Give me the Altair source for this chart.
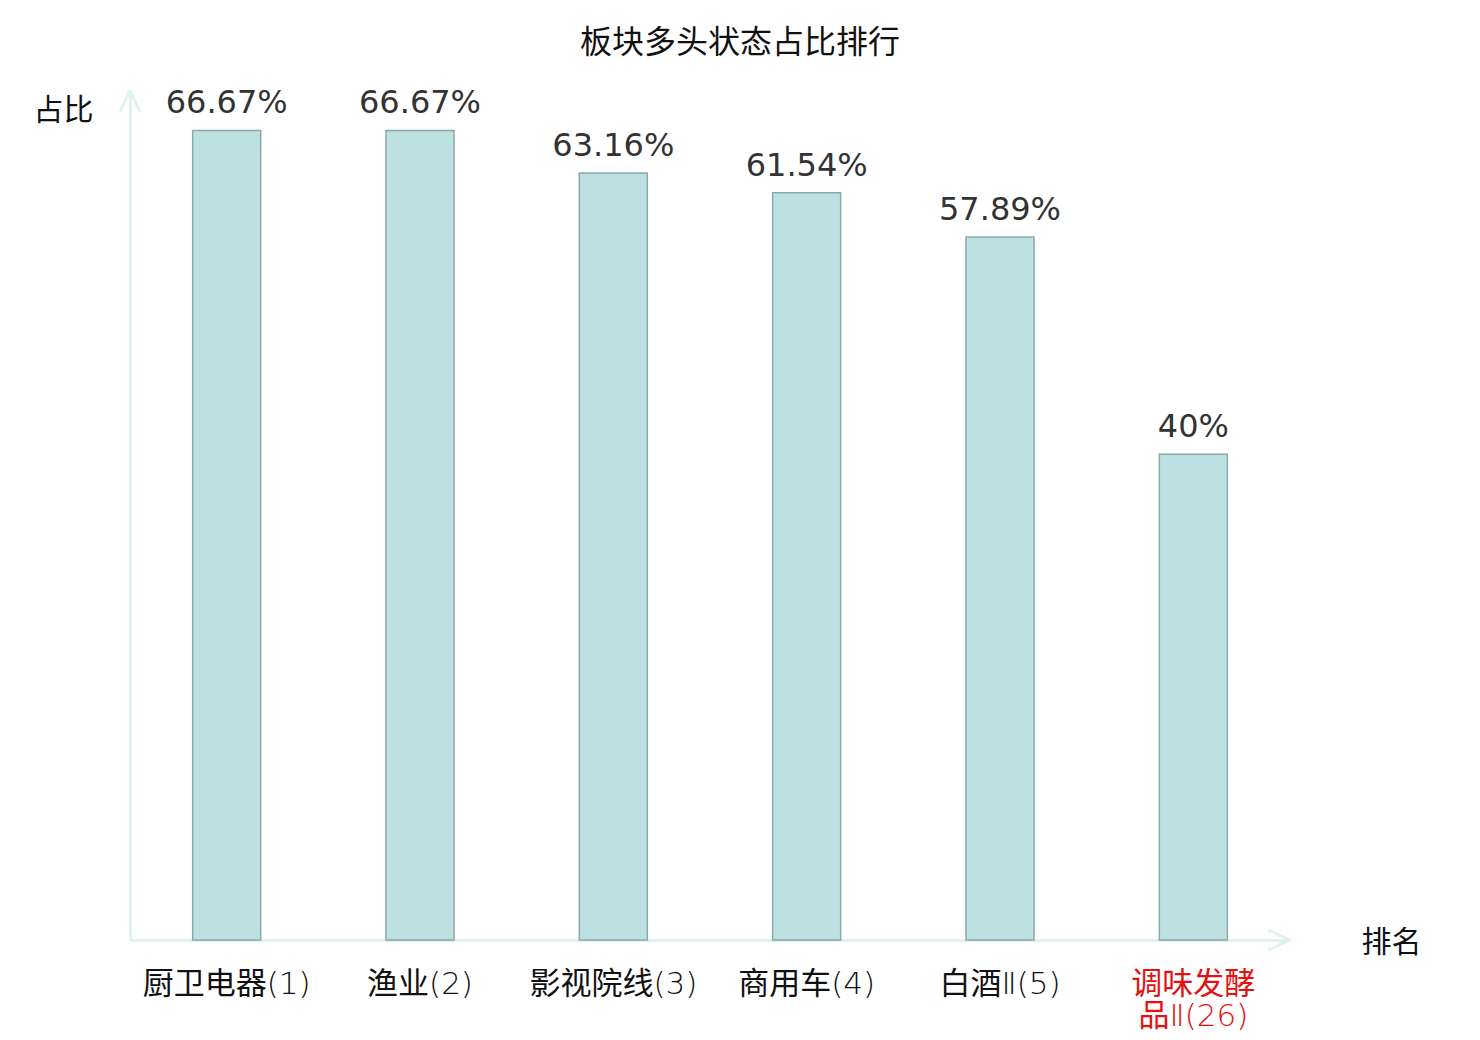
import altair as alt
import pandas as pd

categories = ["厨卫电器(1)", "渔业(2)", "影视院线(3)", "商用车(4)", "白酒Ⅱ(5)", "调味发酵品Ⅱ(26)"]
values = [66.67, 66.67, 63.16, 61.54, 57.89, 40.0]
value_labels = ["66.67%", "66.67%", "63.16%", "61.54%", "57.89%", "40%"]

df = pd.DataFrame({"cat": categories, "val": values, "lbl": value_labels})

W, H = 1160, 850
AXIS_COLOR = "#dff2ef"
FONT = "DejaVu Sans, Noto Sans CJK SC"
LABEL_FONT = "DejaVu Sans Light, Noto Sans CJK SC"
CJK = "Noto Sans CJK SC"

x_enc = alt.X(
    "cat:N",
    sort=categories,
    scale=alt.Scale(paddingInner=0, paddingOuter=0),
    axis=alt.Axis(
        title="排名",
        titleAngle=0,
        titleX=W + 101,
        titleY=2,
        titleAlign="center",
        titleBaseline="middle",
        titleFontSize=30,
        titleFontWeight="normal",
        titleColor="#111111",
        titleFont=CJK,
        labelAngle=0,
        labelFontSize=31,
        labelFont=LABEL_FONT,
        labelColor=alt.ExprRef(expr="indexof(datum.value, '(26)') >= 0 ? '#e61010' : '#111111'"),
        labelExpr="datum.value == '调味发酵品Ⅱ(26)' ? ['调味发酵', '品Ⅱ(26)'] : datum.value",
        labelLineHeight=32,
        labelPadding=44,
        labelBaseline="middle",
        ticks=False,
        domainColor=AXIS_COLOR,
        domainWidth=3,
        grid=False,
    ),
)

y_enc = alt.Y(
    "val:Q",
    scale=alt.Scale(domain=[0, 70], nice=False, zero=True),
    axis=alt.Axis(
        title="占比",
        titleAngle=0,
        titleX=-67,
        titleY=20,
        titleAlign="center",
        titleBaseline="middle",
        titleFontSize=30,
        titleFontWeight="normal",
        titleColor="#111111",
        titleFont=CJK,
        labels=False,
        ticks=False,
        grid=False,
        domainColor=AXIS_COLOR,
        domainWidth=3,
    ),
)

bars = alt.Chart(df).mark_bar(
    size=68, color="#bde0e3", stroke="#8ba8a9", strokeWidth=1.5
).encode(x=x_enc, y=y_enc)

texts = alt.Chart(df).mark_text(
    baseline="alphabetic", dy=-17, fontSize=32, font=FONT, color="#333333"
).encode(x=alt.X("cat:N", sort=categories), y="val:Q", text="lbl:N")

arrow_data = alt.Data(values=[{"a": 1}])
arr_style = dict(color=AXIS_COLOR, strokeWidth=3)
ya1 = alt.Chart(arrow_data).mark_rule(**arr_style).encode(
    x=alt.value(0), y=alt.value(0), x2=alt.value(-10), y2=alt.value(22))
ya2 = alt.Chart(arrow_data).mark_rule(**arr_style).encode(
    x=alt.value(0), y=alt.value(0), x2=alt.value(10), y2=alt.value(22))
xa1 = alt.Chart(arrow_data).mark_rule(**arr_style).encode(
    x=alt.value(W), y=alt.value(H), x2=alt.value(W - 22), y2=alt.value(H - 10))
xa2 = alt.Chart(arrow_data).mark_rule(**arr_style).encode(
    x=alt.value(W), y=alt.value(H), x2=alt.value(W - 22), y2=alt.value(H + 10))

chart = alt.layer(bars, texts, ya1, ya2, xa1, xa2).properties(
    width=W,
    height=H,
    title=alt.TitleParams(
        "板块多头状态占比排行", fontSize=32, font=CJK, fontWeight="normal",
        color="#111111", anchor="middle", dx=30, offset=27,
    ),
    autosize=alt.AutoSizeParams(type="none"),
    padding={"left": 122, "top": 82, "right": 182, "bottom": 96},
).configure_view(stroke=None)

chart.save("out.html", embed_options={"renderer": "svg", "actions": False})
